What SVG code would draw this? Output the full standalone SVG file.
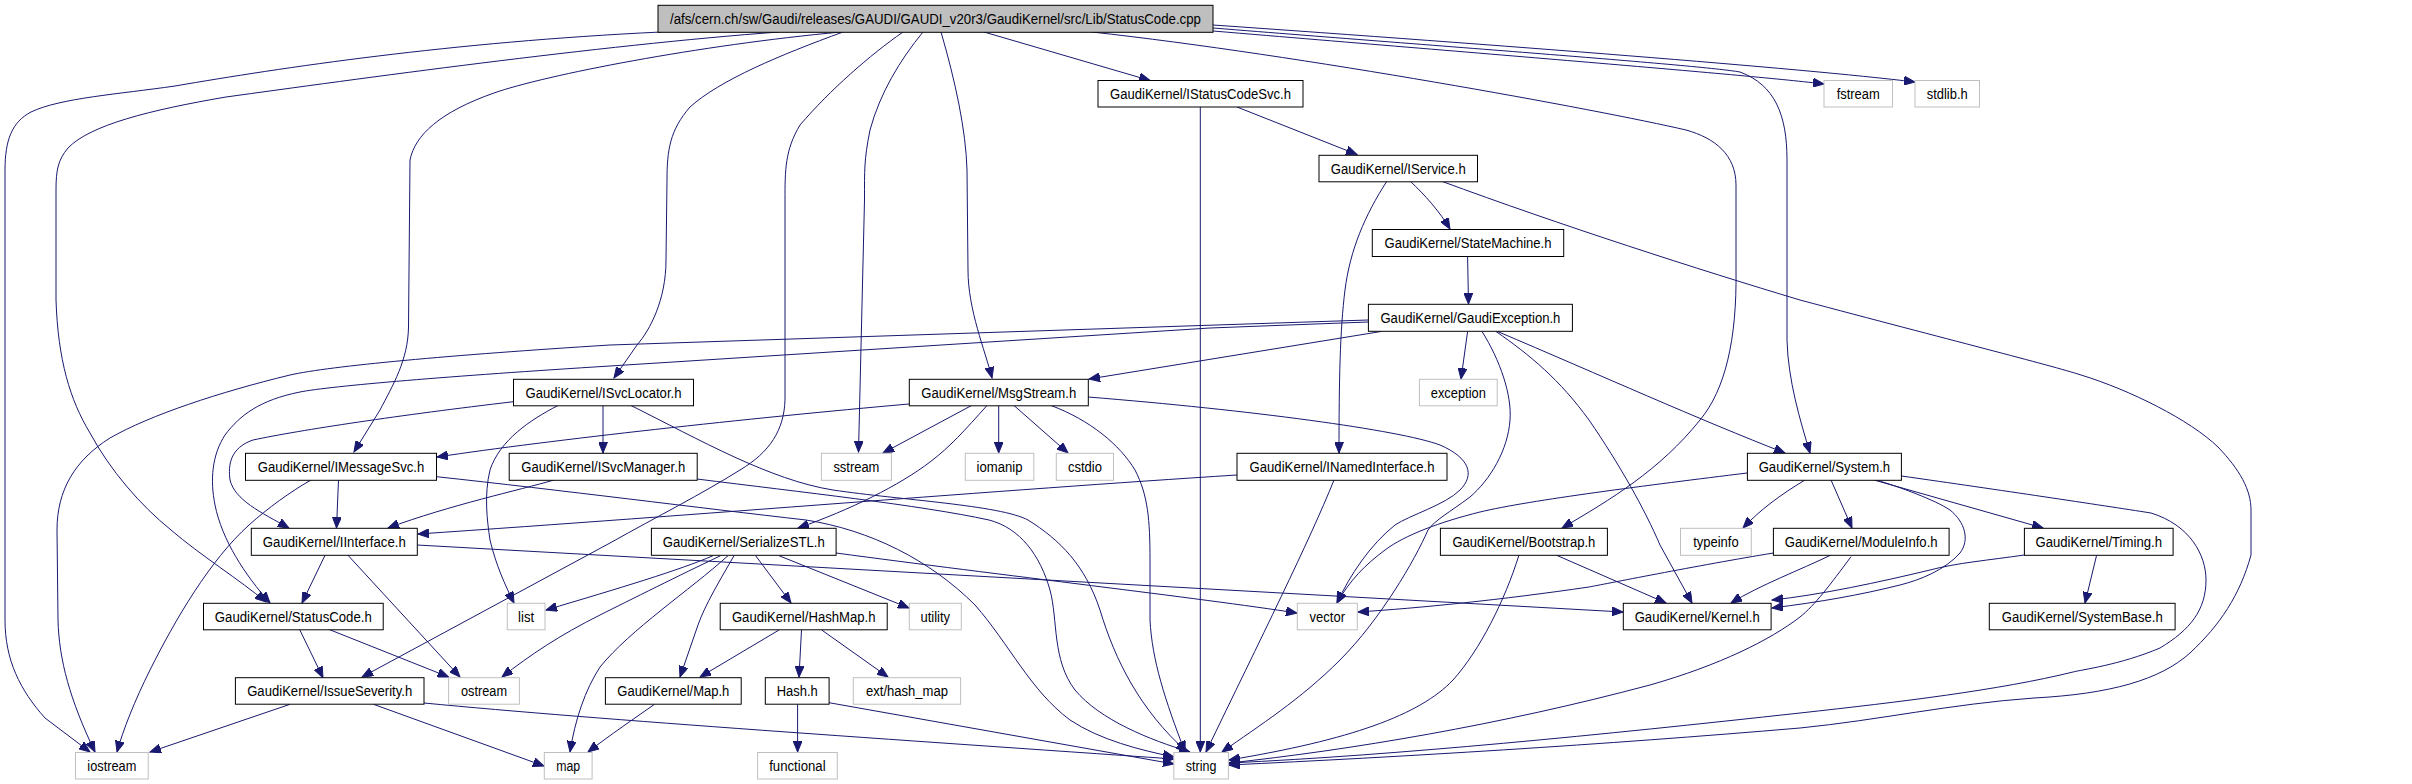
<svg xmlns="http://www.w3.org/2000/svg" width="2412" height="784" viewBox="0 0 2412 784">
<style>
.n rect{fill:#fff;stroke:#000;stroke-width:1}
.g rect{fill:#fff;stroke:#bfbfbf;stroke-width:1}
.r rect{fill:#bfbfbf;stroke:#000;stroke-width:1}
text{font-family:"Liberation Sans",Arial,sans-serif;font-size:14px;fill:#000;text-anchor:middle}
#edges path{fill:none;stroke:#191970;stroke-width:1;marker-end:url(#a)}
</style>
<defs>
<marker id="a" markerWidth="12" markerHeight="9" refX="11" refY="4.5" orient="auto" markerUnits="userSpaceOnUse"><path d="M0,0 L11,4.5 L0,9 z" fill="#191970" stroke="#191970" stroke-width="1"/></marker>
</defs>
<rect width="2412" height="784" fill="#fff"/>
<g id="edges">
<path d="M661,32 C450,42 280,68 175,86 C120,94 60,98 31,112 C12,122 5,140 5,170 L5,620 C5,660 20,690 45,718 L90,752"/>
<path d="M779,32 C600,45 350,80 226,97 C150,110 90,125 68,148 C58,160 56,170 56,190 L56,300 C58,360 70,400 90,433 C110,470 140,505 171,530 C200,555 240,580 266,602"/>
<path d="M841,32 C700,45 545,75 494,93 C440,112 415,135 410,160 L408.5,327 C408,360 393,385 380,410 L354,452"/>
<path d="M843,32 C780,55 720,80 690,107 C670,130 667,150 667,180 L666,260 C666,300 650,330 637,345 L614,378"/>
<path d="M903,32 C870,55 830,90 800,125 C785,150 785,170 785,200 L785,400 C784,430 770,452 740,470 C700,495 660,515 610,543 L362,677"/>
<path d="M923,32 C900,60 880,93 870,130 C864,160 864.5,170 864.5,200 L858.5,452"/>
<path d="M941,32 C955,80 966,130 967,170 L968,270 C968,310 985,350 992,378"/>
<path d="M984,32 L1150,80.5"/>
<path d="M1092,32 C1300,55 1600,110 1686,130 C1715,138 1736,155 1736,185 L1736,270 C1737,340 1725,390 1700,420 C1660,470 1610,500 1562,528"/>
<path d="M1213,28 C1450,47 1700,65 1740,72 C1775,85 1787,115 1787,160 L1787,340 C1788,380 1800,420 1810,453"/>
<path d="M1213,31 C1500,55 1750,75 1824,84"/>
<path d="M1213,25 C1500,45 1800,68 1915,82"/>
<path d="M1237,107 L1357,154.5"/>
<path d="M1200.3,107 L1200.3,752"/>
<path d="M1410,181 C1425,195 1440,212 1450,229"/>
<path d="M1387,181 C1365,215 1350,250 1345,290 C1340,330 1339,380 1339,453"/>
<path d="M1441,181 C1560,225 1700,270 1800,300 C1950,340 2050,365 2081,375 C2130,390 2190,420 2218,447 C2240,470 2251,490 2251,510 L2251,555 C2240,595 2220,625 2190,653 C2160,680 2110,694 2034,698 C1950,704 1880,720 1800,728 C1600,745 1400,757 1229,765"/>
<path d="M1467.6,256.7 L1468.5,304"/>
<path d="M1467.6,331.5 L1461,379"/>
<path d="M1381,331.5 L1089,379"/>
<path d="M1497.6,331.5 C1600,375 1700,420 1785,453"/>
<path d="M1496,331.5 C1530,355 1560,380 1589,420 C1620,465 1645,510 1660,545 L1692,603"/>
<path d="M1482,331.5 C1500,360 1512,395 1510,420 C1508,450 1490,480 1470,497 C1450,512 1435,520 1428,530 C1415,560 1380,620 1340,660 C1300,700 1260,725 1222,752"/>
<path d="M1368,320 L610,345 C450,355 330,366 290,375 C220,392 150,415 110,438 C75,460 57,490 57,530 L58,620 C59,660 70,700 95,752"/>
<path d="M1368,322 L1210,328 L610,366 C450,376 330,386 300,392 C260,400 240,415 225,435 C212,455 210,480 215,505 C222,540 245,575 270,603"/>
<path d="M909,404 C750,418 550,440 437,457"/>
<path d="M971.5,405.5 L883,453"/>
<path d="M987,405.5 C965,430 950,447 930,462 C900,485 850,510 798,528"/>
<path d="M998.7,405.5 L998.7,453"/>
<path d="M1014,405.5 L1068,453"/>
<path d="M1051,405.5 C1090,420 1120,445 1135,470 C1148,495 1150,520 1150,560 L1150,620 C1152,660 1165,700 1185,752"/>
<path d="M1088,397 C1250,410 1400,430 1440,445 C1470,458 1475,475 1460,490 C1445,505 1410,515 1395,525 C1370,545 1350,575 1337,603"/>
<path d="M603,405.5 L603,453"/>
<path d="M513.5,401.7 C400,415 300,430 253,440 C230,448 228,465 230,480 C235,500 260,512 289,528"/>
<path d="M558,405.5 C530,420 500,440 490,470 C484,495 487,520 490,540 C496,565 505,585 514,603"/>
<path d="M631,405.5 C700,440 770,480 833,490 C900,500 1000,505 1028,520 C1060,540 1085,565 1100,610 C1115,660 1140,710 1187,752"/>
<path d="M554,480 C520,490 450,505 388,528"/>
<path d="M697,479 C800,492 920,505 989,520 C1020,528 1040,555 1050,590 C1058,620 1052,660 1075,690 C1100,720 1150,740 1190,752"/>
<path d="M338.5,480 L336.5,528"/>
<path d="M311,480 C290,492 268,508 249,525 C210,560 175,620 150,670 C135,700 123,730 117,752"/>
<path d="M436.5,476.7 C560,490 700,508 806,520 C870,530 930,560 975,605 C1010,645 1030,690 1070,720 C1100,740 1140,750 1174,757"/>
<path d="M1237,475 C1000,490 700,515 418,534"/>
<path d="M1334,480 C1310,540 1260,640 1206,752"/>
<path d="M325,555.3 L302,603"/>
<path d="M348,555.3 L460,677"/>
<path d="M417,545 L1623,612"/>
<path d="M299.5,629.3 L323,677.7"/>
<path d="M328.7,629.3 L448.6,677"/>
<path d="M290,704.3 L150,752"/>
<path d="M373.5,704.3 L544,766"/>
<path d="M424,703 C600,720 900,740 1174,759"/>
<path d="M713,555.7 C680,570 620,588 546,610"/>
<path d="M720.6,555.7 C680,575 630,600 600,615 C560,635 530,655 502,677"/>
<path d="M728,555.7 C690,590 630,630 600,667 C585,690 575,720 570,752"/>
<path d="M734,555.7 C720,580 705,605 698,625 L680,677"/>
<path d="M755.6,555.7 L791,603"/>
<path d="M779,555.7 L909,608"/>
<path d="M836,553 C1000,575 1200,598 1297,613"/>
<path d="M779,630 L700,677"/>
<path d="M801.5,630 L799,677"/>
<path d="M821.7,630 L888,677"/>
<path d="M654.5,704.3 C635,718 610,735 588,752"/>
<path d="M797.6,704.3 L797.6,752"/>
<path d="M829,702.7 L1174,764"/>
<path d="M1556,555 L1666,603"/>
<path d="M1519,555 C1505,600 1480,650 1453,680 C1420,715 1350,740 1229,760"/>
<path d="M1773.4,553 C1700,565 1600,585 1589,587 C1500,600 1420,608 1358,612"/>
<path d="M1831,555 C1800,570 1760,585 1731,603"/>
<path d="M1851,556.7 C1830,585 1815,605 1800,617 C1770,640 1720,665 1650,685 C1500,725 1350,750 1229,763"/>
<path d="M2096.6,555.3 L2085,603"/>
<path d="M2024.4,555 C1990,560 1956,563 1930,570 C1880,582 1820,595 1772,600"/>
<path d="M1831,480 L1852,528"/>
<path d="M1874,480 L2043,528"/>
<path d="M1876,480 C1900,487 1935,500 1950,510 C1965,522 1970,540 1960,553 C1945,570 1920,580 1900,585 C1860,595 1820,602 1772,608"/>
<path d="M1901.5,476 C2000,490 2100,505 2151,513 C2190,525 2206,555 2206,580 C2206,610 2190,630 2160,648 C2120,665 2080,670 2073,672 C2000,690 1900,702 1800,713 C1600,735 1400,755 1229,763"/>
<path d="M1805,480 C1780,495 1760,510 1743,528"/>
<path d="M1747,473 C1650,485 1530,500 1480,512 C1440,522 1405,535 1385,550 C1365,565 1350,580 1337,603"/>
</g>
<g id="root" class="r"><rect x="658" y="5.3" width="555" height="27"/><text x="935.5" y="24" textLength="531" lengthAdjust="spacingAndGlyphs">/afs/cern.ch/sw/Gaudi/releases/GAUDI/GAUDI_v20r3/GaudiKernel/src/Lib/StatusCode.cpp</text></g>
<g id="IStatusCodeSvc" class="n"><rect x="1098" y="80.5" width="205" height="26.5"/><text x="1200.5" y="99" textLength="181" lengthAdjust="spacingAndGlyphs">GaudiKernel/IStatusCodeSvc.h</text></g>
<g id="fstream" class="g"><rect x="1824" y="80.5" width="68.5" height="26.5"/><text x="1858.2" y="99" textLength="43" lengthAdjust="spacingAndGlyphs">fstream</text></g>
<g id="stdlib" class="g"><rect x="1915" y="80.5" width="64.5" height="26.5"/><text x="1947.2" y="99" textLength="41" lengthAdjust="spacingAndGlyphs">stdlib.h</text></g>
<g id="IService" class="n"><rect x="1319" y="155.3" width="158.5" height="26.5"/><text x="1398.2" y="173.8" textLength="135" lengthAdjust="spacingAndGlyphs">GaudiKernel/IService.h</text></g>
<g id="StateMachine" class="n"><rect x="1372.3" y="229.5" width="191.4" height="27"/><text x="1468" y="248.3" textLength="167" lengthAdjust="spacingAndGlyphs">GaudiKernel/StateMachine.h</text></g>
<g id="GaudiException" class="n"><rect x="1368.4" y="304.3" width="204" height="27"/><text x="1470.4" y="323" textLength="180" lengthAdjust="spacingAndGlyphs">GaudiKernel/GaudiException.h</text></g>
<g id="ISvcLocator" class="n"><rect x="513.5" y="379.3" width="180" height="26.5"/><text x="603.5" y="397.8" textLength="156" lengthAdjust="spacingAndGlyphs">GaudiKernel/ISvcLocator.h</text></g>
<g id="MsgStream" class="n"><rect x="909.3" y="379.3" width="179" height="26.5"/><text x="998.8" y="397.8" textLength="155" lengthAdjust="spacingAndGlyphs">GaudiKernel/MsgStream.h</text></g>
<g id="exception" class="g"><rect x="1419.4" y="379.3" width="77.8" height="26.5"/><text x="1458.3" y="397.8" textLength="55" lengthAdjust="spacingAndGlyphs">exception</text></g>
<g id="IMessageSvc" class="n"><rect x="245.5" y="453.3" width="191" height="27"/><text x="341" y="472" textLength="166.5" lengthAdjust="spacingAndGlyphs">GaudiKernel/IMessageSvc.h</text></g>
<g id="ISvcManager" class="n"><rect x="509.2" y="453.3" width="188" height="27"/><text x="603.2" y="472" textLength="164" lengthAdjust="spacingAndGlyphs">GaudiKernel/ISvcManager.h</text></g>
<g id="sstream" class="g"><rect x="821.4" y="453.3" width="70" height="27"/><text x="856.4" y="472" textLength="46" lengthAdjust="spacingAndGlyphs">sstream</text></g>
<g id="iomanip" class="g"><rect x="965.3" y="453.3" width="68.5" height="27"/><text x="999.5" y="472" textLength="46" lengthAdjust="spacingAndGlyphs">iomanip</text></g>
<g id="cstdio" class="g"><rect x="1056.3" y="453.3" width="57.2" height="27"/><text x="1084.9" y="472" textLength="34" lengthAdjust="spacingAndGlyphs">cstdio</text></g>
<g id="INamedInterface" class="n"><rect x="1237" y="453.3" width="210" height="27"/><text x="1342" y="472" textLength="185" lengthAdjust="spacingAndGlyphs">GaudiKernel/INamedInterface.h</text></g>
<g id="System" class="n"><rect x="1747.4" y="453.3" width="154" height="27"/><text x="1824.4" y="472" textLength="131.5" lengthAdjust="spacingAndGlyphs">GaudiKernel/System.h</text></g>
<g id="IInterface" class="n"><rect x="251.3" y="528.3" width="166" height="27"/><text x="334.3" y="547" textLength="143" lengthAdjust="spacingAndGlyphs">GaudiKernel/IInterface.h</text></g>
<g id="SerializeSTL" class="n"><rect x="651.4" y="528.3" width="184.7" height="27"/><text x="743.7" y="547" textLength="162" lengthAdjust="spacingAndGlyphs">GaudiKernel/SerializeSTL.h</text></g>
<g id="Bootstrap" class="n"><rect x="1440.4" y="528.3" width="167" height="27"/><text x="1523.9" y="547" textLength="143" lengthAdjust="spacingAndGlyphs">GaudiKernel/Bootstrap.h</text></g>
<g id="typeinfo" class="g"><rect x="1680.5" y="528.3" width="70.8" height="27"/><text x="1715.9" y="547" textLength="45.5" lengthAdjust="spacingAndGlyphs">typeinfo</text></g>
<g id="ModuleInfo" class="n"><rect x="1773.4" y="528.3" width="175.7" height="27"/><text x="1861.2" y="547" textLength="153" lengthAdjust="spacingAndGlyphs">GaudiKernel/ModuleInfo.h</text></g>
<g id="Timing" class="n"><rect x="2024.4" y="528.3" width="148.7" height="27"/><text x="2098.7" y="547" textLength="126.5" lengthAdjust="spacingAndGlyphs">GaudiKernel/Timing.h</text></g>
<g id="StatusCode" class="n"><rect x="203.5" y="603.3" width="179.7" height="26.5"/><text x="293.3" y="621.8" textLength="157" lengthAdjust="spacingAndGlyphs">GaudiKernel/StatusCode.h</text></g>
<g id="list" class="g"><rect x="507.3" y="603.3" width="37.7" height="26.5"/><text x="526.1" y="621.8" textLength="16" lengthAdjust="spacingAndGlyphs">list</text></g>
<g id="HashMap" class="n"><rect x="720.2" y="603.3" width="167" height="26.5"/><text x="803.7" y="621.8" textLength="143.6" lengthAdjust="spacingAndGlyphs">GaudiKernel/HashMap.h</text></g>
<g id="utility" class="g"><rect x="909.3" y="603.3" width="52" height="26.5"/><text x="935.3" y="621.8" textLength="29.6" lengthAdjust="spacingAndGlyphs">utility</text></g>
<g id="vector" class="g"><rect x="1297.3" y="603.3" width="60" height="26.5"/><text x="1327.3" y="621.8" textLength="35.4" lengthAdjust="spacingAndGlyphs">vector</text></g>
<g id="Kernel" class="n"><rect x="1623.3" y="603.3" width="147.8" height="26.5"/><text x="1697.2" y="621.8" textLength="125" lengthAdjust="spacingAndGlyphs">GaudiKernel/Kernel.h</text></g>
<g id="SystemBase" class="n"><rect x="1989.3" y="603.3" width="185.8" height="26.5"/><text x="2082.2" y="621.8" textLength="161" lengthAdjust="spacingAndGlyphs">GaudiKernel/SystemBase.h</text></g>
<g id="IssueSeverity" class="n"><rect x="235.4" y="677.7" width="188.6" height="26.5"/><text x="329.7" y="696.2" textLength="165" lengthAdjust="spacingAndGlyphs">GaudiKernel/IssueSeverity.h</text></g>
<g id="ostream" class="g"><rect x="448.6" y="677.7" width="70.8" height="26.5"/><text x="484" y="696.2" textLength="46" lengthAdjust="spacingAndGlyphs">ostream</text></g>
<g id="Map" class="n"><rect x="605.4" y="677.7" width="135.8" height="26.5"/><text x="673.3" y="696.2" textLength="112" lengthAdjust="spacingAndGlyphs">GaudiKernel/Map.h</text></g>
<g id="Hash" class="n"><rect x="765.3" y="677.7" width="63.8" height="26.5"/><text x="797.2" y="696.2" textLength="41" lengthAdjust="spacingAndGlyphs">Hash.h</text></g>
<g id="ext_hash_map" class="g"><rect x="853.3" y="677.7" width="107.3" height="26.5"/><text x="907" y="696.2" textLength="82" lengthAdjust="spacingAndGlyphs">ext/hash_map</text></g>
<g id="iostream" class="g"><rect x="75.5" y="752.5" width="72.7" height="26.5"/><text x="111.8" y="771" textLength="49" lengthAdjust="spacingAndGlyphs">iostream</text></g>
<g id="map" class="g"><rect x="544.3" y="752.5" width="47.8" height="26.5"/><text x="568.2" y="771" textLength="24" lengthAdjust="spacingAndGlyphs">map</text></g>
<g id="functional" class="g"><rect x="757.6" y="752.5" width="79.7" height="26.5"/><text x="797.4" y="771" textLength="56.5" lengthAdjust="spacingAndGlyphs">functional</text></g>
<g id="string" class="g"><rect x="1173.8" y="752.5" width="54.6" height="26.5"/><text x="1201.1" y="771" textLength="30.5" lengthAdjust="spacingAndGlyphs">string</text></g>
</svg>
